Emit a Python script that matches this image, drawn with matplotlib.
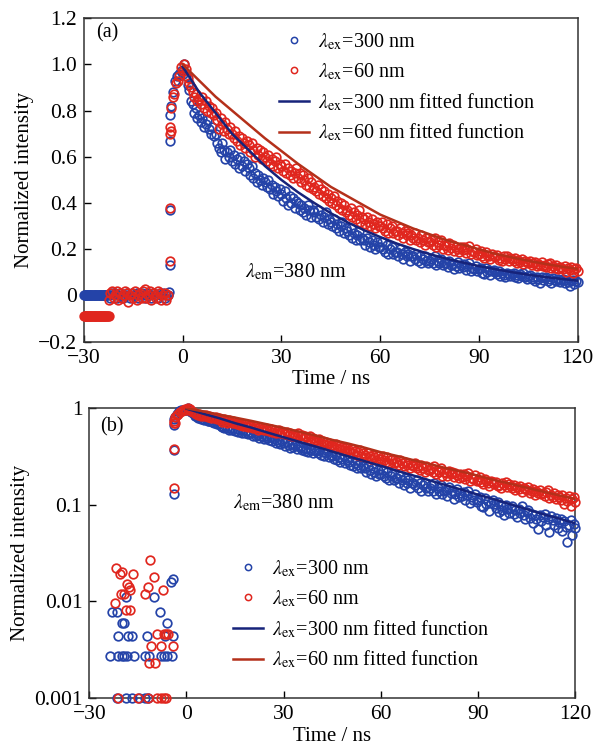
import numpy as np
import matplotlib.pyplot as plt
from matplotlib.lines import Line2D

# ─────────────────────────────────────────────────────────
#  Estilo
# ─────────────────────────────────────────────────────────
plt.rcParams["font.family"] = ["Liberation Serif", "DejaVu Serif"]
plt.rcParams["mathtext.fontset"] = "stix"

BLUE = "#2443a8"
RED = "#e0261e"
BLUE_FIT = "#16237a"
RED_FIT = "#b4301a"

# ─────────────────────────────────────────────────────────
#  Datos
# ─────────────────────────────────────────────────────────
decay_t = np.arange(0, 120.5, 0.5)          # ns, 241 muestras

decay_blue = [
    0.96, 1.00, 0.95, 0.91, 0.89, 0.84, 0.83, 0.79, 0.81, 0.77,
    0.78, 0.75, 0.77, 0.73, 0.74, 0.76, 0.72, 0.70, 0.73, 0.69,
    0.70, 0.66, 0.64, 0.62, 0.66, 0.63, 0.59, 0.62, 0.60, 0.63,
    0.58, 0.61, 0.57, 0.59, 0.55, 0.60, 0.56, 0.58, 0.54, 0.57,
    0.55, 0.52, 0.56, 0.51, 0.53, 0.49, 0.52, 0.50, 0.48, 0.51,
    0.49, 0.47, 0.50, 0.46, 0.48, 0.44, 0.47, 0.45, 0.43, 0.46,
    0.44, 0.41, 0.45, 0.42, 0.39, 0.43, 0.40, 0.42, 0.38, 0.41,
    0.40, 0.37, 0.39, 0.36, 0.38, 0.35, 0.39, 0.37, 0.34, 0.37,
    0.36, 0.34, 0.37, 0.33, 0.35, 0.32, 0.34, 0.36, 0.31, 0.33,
    0.32, 0.30, 0.33, 0.29, 0.31, 0.28, 0.30, 0.32, 0.27, 0.29,
    0.28, 0.26, 0.29, 0.25, 0.27, 0.24, 0.26, 0.28, 0.24, 0.25,
    0.24, 0.22, 0.25, 0.23, 0.21, 0.24, 0.22, 0.20, 0.23, 0.21,
    0.21, 0.23, 0.20, 0.19, 0.22, 0.18, 0.20, 0.21, 0.18, 0.19,
    0.19, 0.17, 0.20, 0.18, 0.16, 0.19, 0.17, 0.18, 0.15, 0.17,
    0.17, 0.16, 0.18, 0.15, 0.17, 0.14, 0.16, 0.17, 0.15, 0.14,
    0.15, 0.16, 0.14, 0.17, 0.13, 0.15, 0.14, 0.16, 0.13, 0.14,
    0.142, 0.124, 0.151, 0.131, 0.138, 0.116, 0.129, 0.144, 0.121, 0.133,
    0.122, 0.135, 0.112, 0.126, 0.139, 0.104, 0.119, 0.113, 0.128, 0.106,
    0.113, 0.121, 0.098, 0.094, 0.117, 0.102, 0.109, 0.087, 0.104, 0.111,
    0.101, 0.092, 0.108, 0.084, 0.097, 0.089, 0.078, 0.099, 0.091, 0.083,
    0.093, 0.098, 0.081, 0.088, 0.074, 0.091, 0.083, 0.096, 0.079, 0.072,
    0.084, 0.089, 0.073, 0.081, 0.064, 0.078, 0.071, 0.056, 0.079, 0.068,
    0.074, 0.081, 0.062, 0.072, 0.052, 0.077, 0.069, 0.061, 0.073, 0.058,
    0.066, 0.071, 0.054, 0.068, 0.059, 0.041, 0.062, 0.069, 0.049, 0.063,
    0.058,
]

decay_red = [
    0.97, 1.00, 0.98, 0.94, 0.92, 0.90, 0.88, 0.86, 0.87, 0.84,
    0.85, 0.83, 0.86, 0.81, 0.84, 0.80, 0.82, 0.79, 0.81, 0.78,
    0.79, 0.76, 0.72, 0.77, 0.74, 0.71, 0.75, 0.72, 0.70, 0.73,
    0.70, 0.68, 0.71, 0.67, 0.69, 0.65, 0.68, 0.66, 0.64, 0.67,
    0.65, 0.62, 0.66, 0.63, 0.60, 0.64, 0.61, 0.63, 0.59, 0.62,
    0.60, 0.58, 0.61, 0.57, 0.59, 0.56, 0.58, 0.60, 0.55, 0.57,
    0.56, 0.54, 0.57, 0.53, 0.55, 0.52, 0.54, 0.51, 0.53, 0.55,
    0.51, 0.53, 0.49, 0.52, 0.50, 0.48, 0.51, 0.47, 0.49, 0.46,
    0.47, 0.45, 0.48, 0.44, 0.46, 0.43, 0.45, 0.42, 0.44, 0.41,
    0.42, 0.40, 0.43, 0.39, 0.41, 0.38, 0.40, 0.37, 0.39, 0.36,
    0.37, 0.35, 0.38, 0.34, 0.36, 0.33, 0.35, 0.37, 0.32, 0.34,
    0.33, 0.31, 0.34, 0.32, 0.30, 0.33, 0.31, 0.29, 0.32, 0.30,
    0.30, 0.32, 0.29, 0.28, 0.31, 0.27, 0.29, 0.30, 0.27, 0.28,
    0.28, 0.26, 0.29, 0.27, 0.25, 0.28, 0.26, 0.27, 0.24, 0.26,
    0.25, 0.27, 0.24, 0.25, 0.23, 0.26, 0.24, 0.22, 0.25, 0.23,
    0.23, 0.24, 0.22, 0.25, 0.21, 0.23, 0.22, 0.24, 0.20, 0.22,
    0.215, 0.198, 0.226, 0.207, 0.219, 0.192, 0.211, 0.203, 0.188, 0.209,
    0.195, 0.208, 0.184, 0.199, 0.212, 0.178, 0.191, 0.186, 0.201, 0.176,
    0.181, 0.193, 0.172, 0.164, 0.187, 0.175, 0.169, 0.158, 0.178, 0.171,
    0.166, 0.174, 0.155, 0.161, 0.148, 0.169, 0.159, 0.172, 0.151, 0.163,
    0.156, 0.149, 0.162, 0.141, 0.153, 0.145, 0.158, 0.137, 0.148, 0.144,
    0.142, 0.151, 0.133, 0.139, 0.146, 0.127, 0.138, 0.131, 0.143, 0.129,
    0.131, 0.124, 0.137, 0.142, 0.118, 0.127, 0.121, 0.133, 0.116, 0.125,
    0.121, 0.113, 0.126, 0.102, 0.118, 0.109, 0.124, 0.097, 0.115, 0.119,
    0.108,
]

# flanco de subida (común a ambos paneles)
rise_t_blue = [-4.2, -3.9, -3.8, -3.8, -3.7, -3.4, -2.8, -2.2, -1.6, -1.0, -0.5]
rise_v_blue = [0.017, 0.13, 0.37, 0.67, 0.78, 0.82, 0.88, 0.93, 0.95, 0.96, 0.97]
rise_t_red = [-3.8, -3.8, -3.7, -3.7, -3.6, -3.5, -3.0, -2.6, -2.0, -1.5, -1.0, -0.5]
rise_v_red = [0.15, 0.38, 0.70, 0.73, 0.71, 0.81, 0.86, 0.87, 0.92, 0.93, 0.95, 0.99]

# funciones ajustadas
fit_t = np.arange(0, 121, 5)
fit_blue = [0.99, 0.88, 0.79, 0.70, 0.63, 0.56, 0.50, 0.447, 0.40, 0.356,
            0.317, 0.283, 0.253, 0.225, 0.201, 0.179, 0.16, 0.143, 0.127,
            0.114, 0.101, 0.09, 0.08, 0.072, 0.064]
fit_red = [1.0, 0.93, 0.86, 0.80, 0.74, 0.68, 0.625, 0.57, 0.52, 0.47,
           0.43, 0.39, 0.35, 0.32, 0.29, 0.265, 0.24, 0.22, 0.20, 0.18,
           0.165, 0.15, 0.137, 0.125, 0.115]

# fondo antes del pulso, panel (a)
flat_t_blue = np.arange(-30, -22.9, 0.25)
flat_v_blue = np.full(len(flat_t_blue), 0.0)
flat_t_red = np.arange(-30, -22.4, 0.25)
flat_v_red = np.full(len(flat_t_red), -0.088)

noise_t = np.arange(-22.5, -4.4, 0.5)
noise_blue = [0.00, -0.01, 0.01, 0.00, 0.01, -0.01, 0.00, 0.01, 0.00, -0.01,
              0.00, 0.01, 0.00, -0.01, 0.01, 0.00, 0.00, 0.01, -0.01, 0.00,
              0.01, 0.00, -0.01, 0.00, 0.01, 0.00, -0.01, 0.01, 0.00, 0.00,
              -0.01, 0.01, 0.00, 0.01, -0.01, 0.00, 0.00]
noise_red = [-0.02, 0.01, 0.02, -0.01, 0.00, 0.02, -0.02, 0.01, -0.01, 0.00,
             0.02, 0.01, -0.03, 0.00, 0.01, -0.01, 0.02, -0.02, 0.00, 0.01,
             -0.01, 0.02, 0.03, -0.01, 0.00, 0.02, -0.02, 0.01, 0.00, -0.01,
             0.02, 0.01, -0.02, 0.00, 0.01, -0.02, 0.00]

# fondo antes del pulso, panel (b) (escala log)
log_pre_t_blue = [-4.9, -18.8, -9.9, -22.9, -21.4, -8.3, -20.0, -19.3, -6.0,
                  -21.0, -17.9, -16.8, -12.1, -6.5, -4.2,
                  -23.5, -21.0, -20.0, -19.2, -18.3, -16.3, -12.7, -11.6,
                  -8.0, -7.0, -6.0, -4.6,
                  -21.4, -18.8, -16.8, -14.7, -12.7, -11.9]
log_pre_v_blue = [0.016, 0.011, 0.011, 0.0077, 0.0077, 0.0077, 0.006, 0.006, 0.006,
                  0.0044, 0.0044, 0.0044, 0.0044, 0.0044, 0.0044,
                  0.0027, 0.0027, 0.0027, 0.0027, 0.0027, 0.0027, 0.0027, 0.0027,
                  0.0027, 0.0027, 0.0027, 0.0027,
                  0.001, 0.001, 0.001, 0.001, 0.001, 0.001]
log_pre_t_red = [-11.3, -21.6, -19.8, -20.4, -16.4, -9.9, -18.2, -17.7, -17.3,
                 -20.2, -19.4, -11.9, -12.7, -7.2, -22.1, -18.8, -17.3,
                 -9.0, -7.0, -6.2, -5.8, -11.0, -8.0, -4.2, -11.6, -9.6,
                 -21.0, -15.0, -11.9, -9.0, -8.0, -7.0, -6.2]
log_pre_v_red = [0.027, 0.022, 0.020, 0.019, 0.019, 0.018, 0.015, 0.014, 0.013,
                 0.012, 0.012, 0.014, 0.012, 0.013, 0.0097, 0.0082, 0.0082,
                 0.0046, 0.0046, 0.0046, 0.0046, 0.0034, 0.0034, 0.0034, 0.0023, 0.0023,
                 0.001, 0.001, 0.001, 0.001, 0.001, 0.001, 0.001]

X_TICKS = [-30, 0, 30, 60, 90, 120]
Y_TICKS_A = [-0.2, 0, 0.2, 0.4, 0.6, 0.8, 1.0, 1.2]
Y_LABELS_A = ["\u22120.2", "0", "0.2", "0.4", "0.6", "0.8", "1.0", "1.2"]
Y_TICKS_B = [0.001, 0.01, 0.1, 1]
Y_LABELS_B = ["0.001", "0.01", "0.1", "1"]

LABELS = [r"$\lambda_{\rm ex}$=300 nm",
          r"$\lambda_{\rm ex}$=60 nm",
          r"$\lambda_{\rm ex}$=300 nm fitted function",
          r"$\lambda_{\rm ex}$=60 nm fitted function"]
EM_LABEL = r"$\lambda_{\rm em}$=380 nm"

TICK_FS = 15.5
LABEL_FS = 15
TEXT_FS = 14.5


# ─────────────────────────────────────────────────────────
#  Helpers
# ─────────────────────────────────────────────────────────
def circles(ax, x, y, color):
    ax.plot(x, y, "o", ms=6.2, mfc="none", mec=color, mew=1.25,
            ls="none", clip_on=False, zorder=3)


def style_axes(ax):
    for sp in ax.spines.values():
        sp.set_linewidth(1.1)
        sp.set_color("#333333")
    ax.tick_params(direction="in", length=5, width=1, labelsize=TICK_FS,
                   top=False, right=False, pad=5)
    ax.tick_params(which="minor", length=0)
    ax.set_xlim(-30, 120)
    ax.set_xticks(X_TICKS)
    ax.set_xlabel("Time / ns", fontsize=LABEL_FS, labelpad=2)
    ax.set_ylabel("Normalized intensity", fontsize=LABEL_FS, labelpad=3)


def legend_handles():
    return [
        Line2D([], [], ls="none", marker="o", ms=4.5, mfc="none", mec=BLUE, mew=1.1),
        Line2D([], [], ls="none", marker="o", ms=4.5, mfc="none", mec=RED, mew=1.1),
        Line2D([], [], color=BLUE_FIT, lw=1.8),
        Line2D([], [], color=RED_FIT, lw=1.8),
    ]


def draw_panel(ax, log_scale):
    circles(ax, decay_t, decay_blue, BLUE)
    circles(ax, rise_t_blue, rise_v_blue, BLUE)
    if log_scale:
        circles(ax, log_pre_t_blue, log_pre_v_blue, BLUE)
    else:
        circles(ax, flat_t_blue, flat_v_blue, BLUE)
        circles(ax, noise_t, noise_blue, BLUE)

    circles(ax, decay_t, decay_red, RED)
    circles(ax, rise_t_red, rise_v_red, RED)
    if log_scale:
        circles(ax, log_pre_t_red, log_pre_v_red, RED)
    else:
        circles(ax, flat_t_red, flat_v_red, RED)
        circles(ax, noise_t, noise_red, RED)

    ax.plot(fit_t, fit_blue, color=BLUE_FIT, lw=1.8, zorder=4)
    ax.plot(fit_t, fit_red, color=RED_FIT, lw=1.8, zorder=4)


def add_legend(ax, anchor):
    ax.legend(legend_handles(), LABELS, loc="upper left",
              bbox_to_anchor=anchor, frameon=False, fontsize=TEXT_FS,
              handlelength=1.5, handletextpad=0.45, labelspacing=0.45,
              borderpad=0, borderaxespad=0)


# ─────────────────────────────────────────────────────────
#  Figura
# ─────────────────────────────────────────────────────────
def main():
    fig = plt.figure(figsize=(5.95, 7.56), dpi=100)
    ax_a = fig.add_axes([0.141, 0.548, 0.830, 0.428])
    ax_b = fig.add_axes([0.150, 0.077, 0.817, 0.383])

    # (a) escala lineal
    draw_panel(ax_a, log_scale=False)
    style_axes(ax_a)
    ax_a.set_ylim(-0.2, 1.2)
    ax_a.set_yticks(Y_TICKS_A)
    ax_a.set_yticklabels(Y_LABELS_A)
    ax_a.text(0.024, 0.954, "(a)", transform=ax_a.transAxes,
              fontsize=TEXT_FS, va="center", ha="left")
    ax_a.text(0.326, 0.216, EM_LABEL, transform=ax_a.transAxes,
              fontsize=TEXT_FS, va="center", ha="left")
    add_legend(ax_a, (0.395, 0.958))

    # (b) escala logarítmica
    draw_panel(ax_b, log_scale=True)
    style_axes(ax_b)
    ax_b.set_yscale("log")
    ax_b.set_ylim(0.001, 1)
    ax_b.set_yticks(Y_TICKS_B)
    ax_b.set_yticklabels(Y_LABELS_B)
    ax_b.minorticks_off()
    ax_b.text(0.023, 0.934, "(b)", transform=ax_b.transAxes,
              fontsize=TEXT_FS, va="center", ha="left")
    ax_b.text(0.296, 0.672, EM_LABEL, transform=ax_b.transAxes,
              fontsize=TEXT_FS, va="center", ha="left")
    add_legend(ax_b, (0.296, 0.48))

    fig.savefig("out.png", dpi=100)


if __name__ == "__main__":
    main()
